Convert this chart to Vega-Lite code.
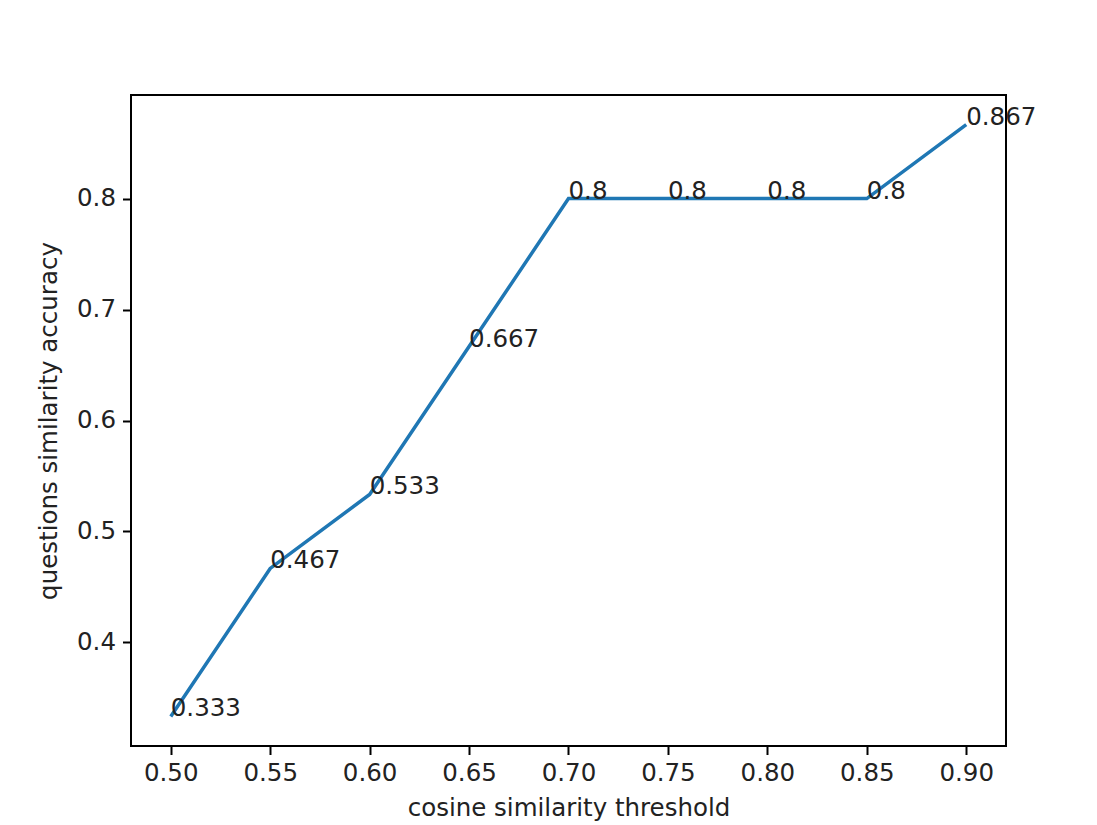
{
  "$schema": "https://vega.github.io/schema/vega-lite/v6.json",
  "autosize": {"type": "none"},
  "width": 875,
  "height": 651,
  "padding": {"left": 131, "top": 95, "right": 91, "bottom": 79},
  "background": "white",
  "config": {
    "view": {"stroke": "black", "strokeWidth": 2},
    "axis": {
      "grid": false,
      "domain": false,
      "ticks": true,
      "tickColor": "black",
      "tickWidth": 2,
      "tickSize": 8.5,
      "labelPadding": 6,
      "labelFont": "DejaVu Sans",
      "labelFontSize": 24.5,
      "labelColor": "#222",
      "titleFont": "DejaVu Sans",
      "titleFontSize": 24.5,
      "titleFontWeight": "normal",
      "titleColor": "#222"
    }
  },
  "data": {
    "values": [
      {"threshold": 0.50, "accuracy": 0.333333, "label": "0.333"},
      {"threshold": 0.55, "accuracy": 0.466667, "label": "0.467"},
      {"threshold": 0.60, "accuracy": 0.533333, "label": "0.533"},
      {"threshold": 0.65, "accuracy": 0.666667, "label": "0.667"},
      {"threshold": 0.70, "accuracy": 0.8, "label": "0.8"},
      {"threshold": 0.75, "accuracy": 0.8, "label": "0.8"},
      {"threshold": 0.80, "accuracy": 0.8, "label": "0.8"},
      {"threshold": 0.85, "accuracy": 0.8, "label": "0.8"},
      {"threshold": 0.90, "accuracy": 0.866667, "label": "0.867"}
    ]
  },
  "encoding": {
    "x": {
      "field": "threshold",
      "type": "quantitative",
      "scale": {"domain": [0.48, 0.92], "nice": false, "zero": false},
      "axis": {
        "title": "cosine similarity threshold",
        "values": [0.5, 0.55, 0.6, 0.65, 0.7, 0.75, 0.8, 0.85, 0.9],
        "format": ".2f",
        "labelPadding": 7,
        "titlePadding": 11
      }
    },
    "y": {
      "field": "accuracy",
      "type": "quantitative",
      "scale": {"domain": [0.306667, 0.893333], "nice": false, "zero": false},
      "axis": {
        "title": "questions similarity accuracy",
        "values": [0.4, 0.5, 0.6, 0.7, 0.8],
        "format": ".1f",
        "labelPadding": 7,
        "titlePadding": 15
      }
    }
  },
  "layer": [
    {
      "mark": {"type": "line", "color": "#1f77b4", "strokeWidth": 3.5, "clip": false}
    },
    {
      "mark": {
        "type": "text",
        "align": "left",
        "baseline": "alphabetic",
        "font": "DejaVu Sans",
        "fontSize": 24.5,
        "color": "#222"
      },
      "encoding": {"text": {"field": "label"}}
    }
  ]
}
